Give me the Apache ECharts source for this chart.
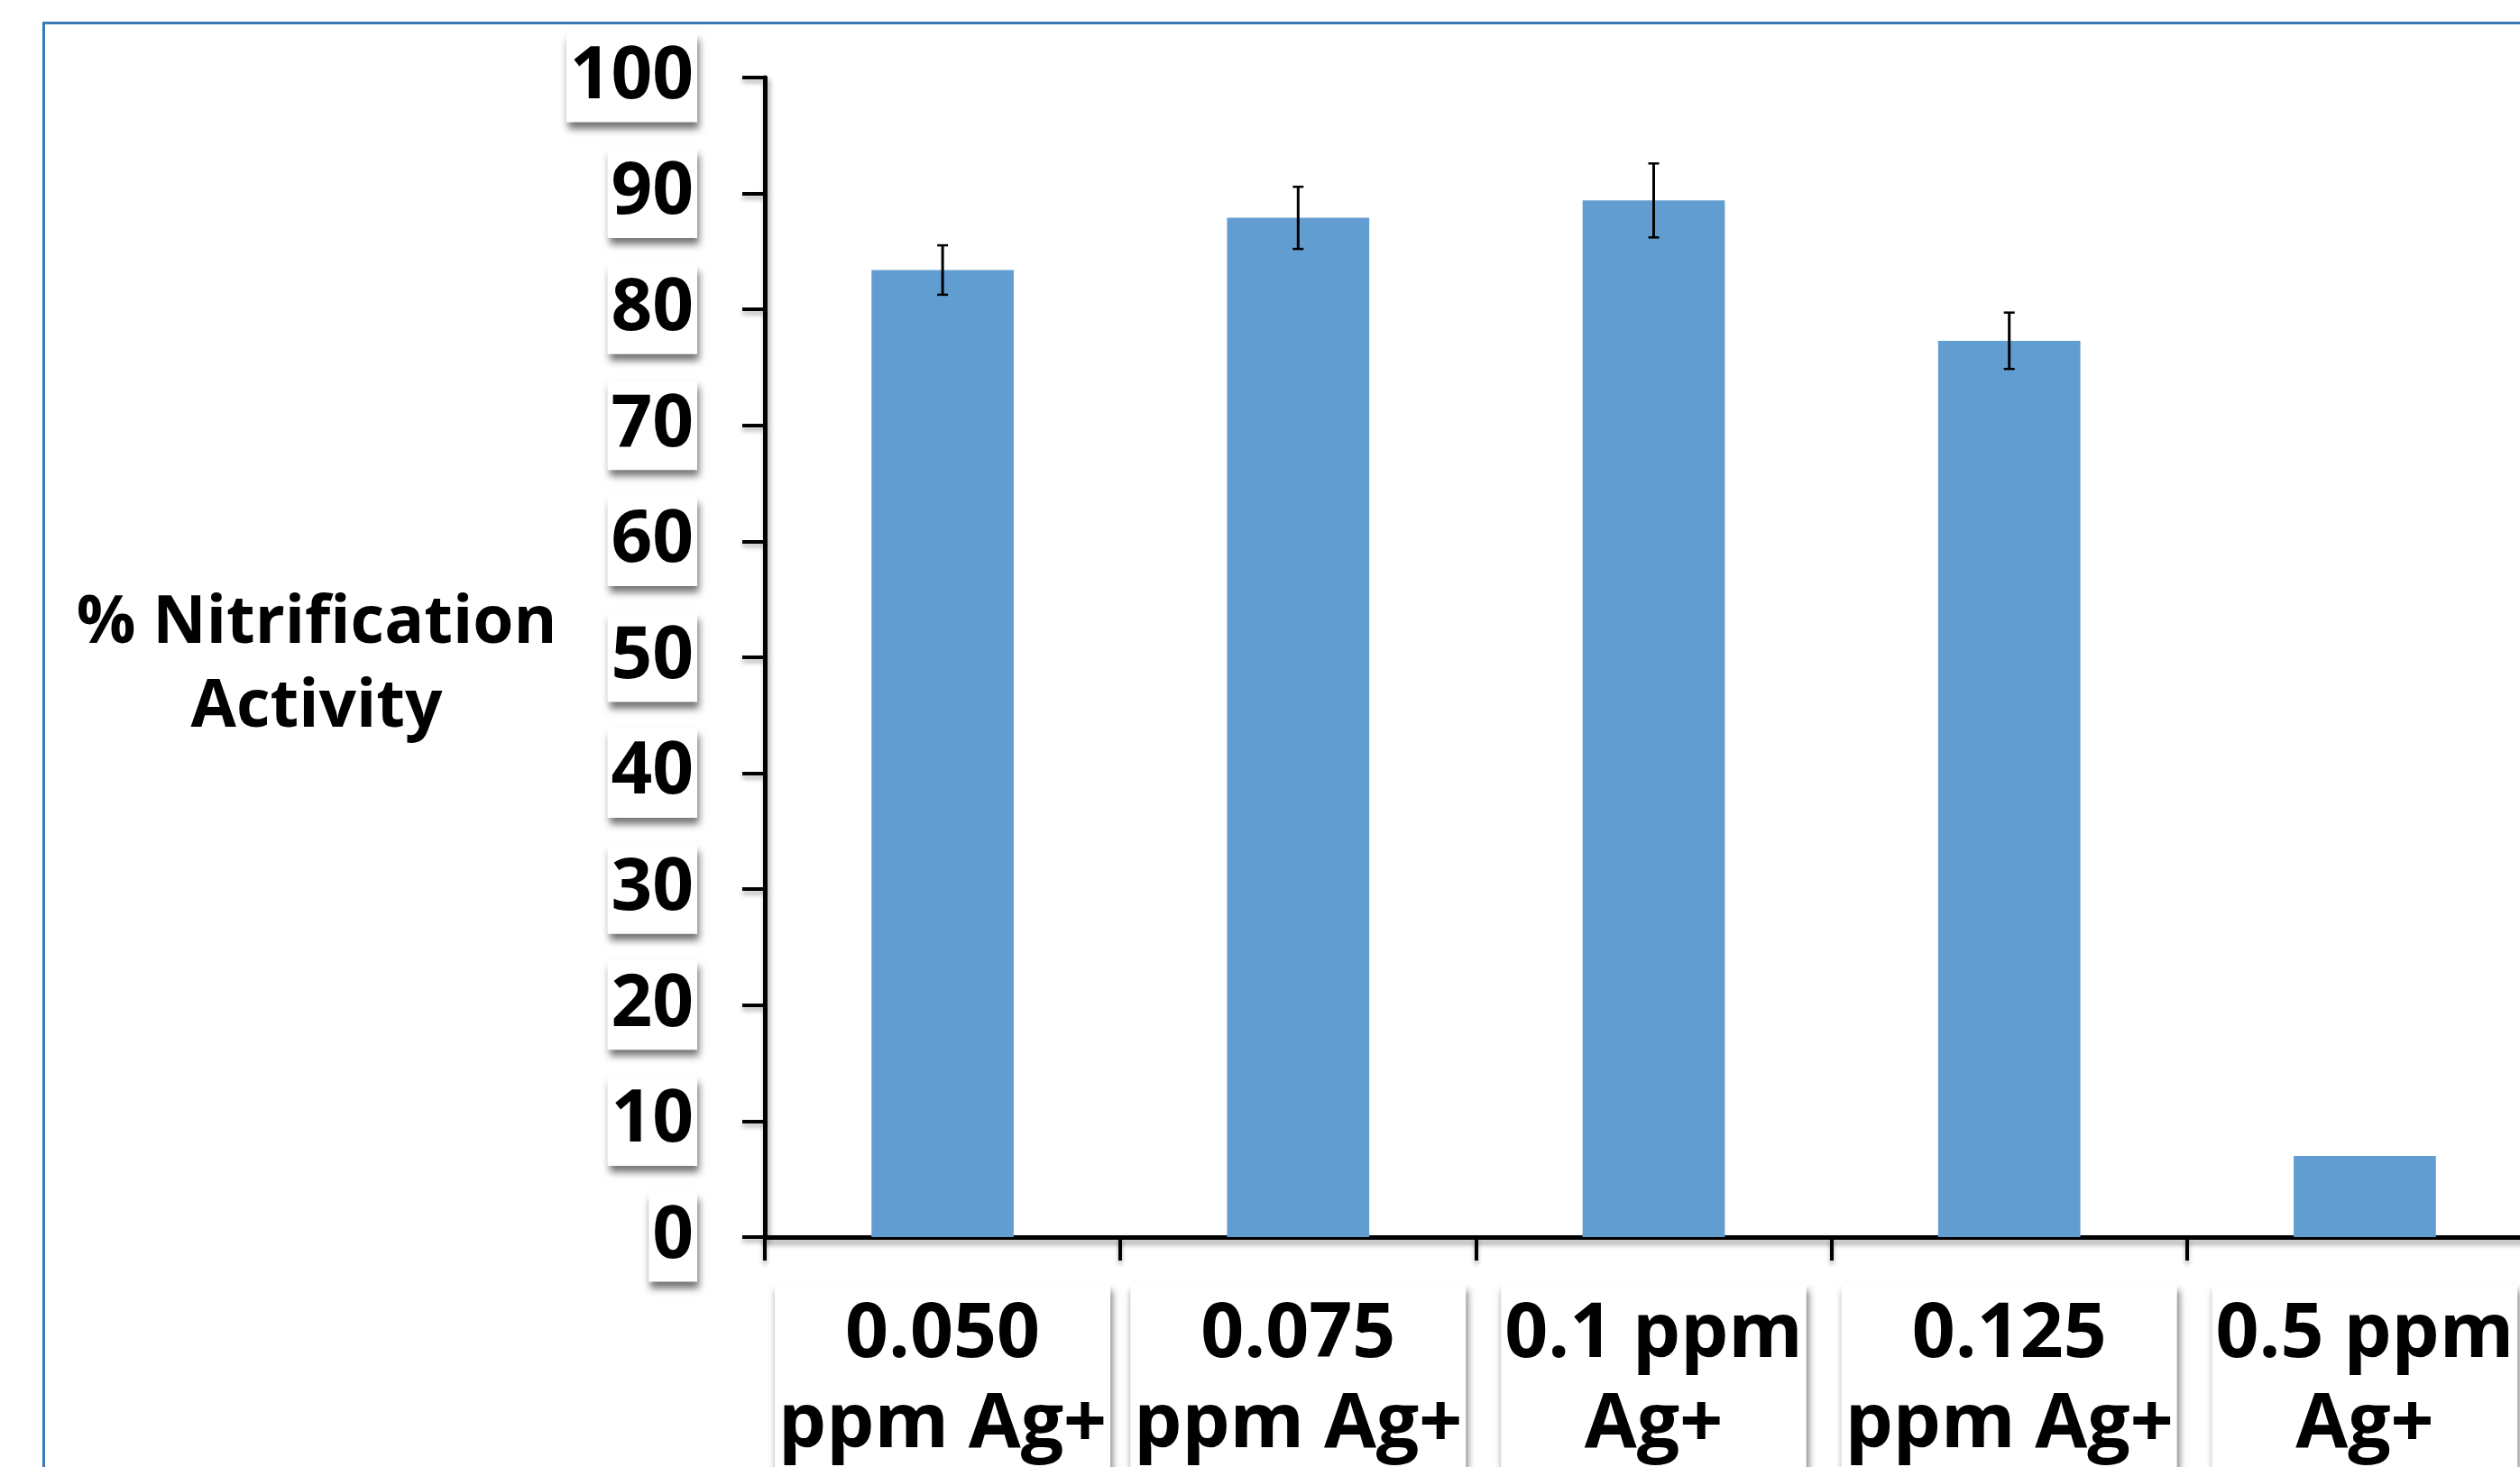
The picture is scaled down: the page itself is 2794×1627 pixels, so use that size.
<!DOCTYPE html>
<html>
<head>
<meta charset="utf-8">
<script src="https://cdn.jsdelivr.net/npm/echarts@6/dist/echarts.min.js"></script>
<style>
html,body{margin:0;padding:0;background:#fff;}
#chart{width:2794px;height:1627px;}
</style>
</head>
<body>
<div id="chart"></div>
<script>
// ---- data ----
var categories = ['0.050\nppm Ag+', '0.075\nppm Ag+', '0.1 ppm\nAg+', '0.125\nppm Ag+', '0.5 ppm\nAg+'];
var values = [83.4, 87.9, 89.4, 77.3, 7.0];
var errors = [2.13, 2.68, 3.19, 2.43, null];
var yTicks = { min: 0, max: 100, interval: 10 };
var yName = '% Nitrification\nActivity';

var FONT = '"Open Sans", "DejaVu Sans", sans-serif';
var errData = [];
for (var i = 0; i < values.length; i++) {
  if (errors[i] != null) errData.push([i, values[i] - errors[i], values[i] + errors[i]]);
}

var labelShadow = {
  backgroundColor: '#ffffff',
  shadowColor: 'rgba(0,0,0,0.55)',
  shadowBlur: 8,
  shadowOffsetX: 2,
  shadowOffsetY: 7
};

var chart = echarts.init(document.getElementById('chart'));
chart.setOption({
  animation: false,
  backgroundColor: '#ffffff',
  graphic: [{
    type: 'rect',
    left: 46, top: 23,
    shape: { width: 3200, height: 2000 },
    style: { fill: 'none', stroke: '#3B78B8', lineWidth: 3 },
    silent: true,
    z: -10
  }, {
    type: 'text',
    x: 351, y: 739,
    silent: true,
    style: {
      text: yName,
      fill: '#000',
      font: 'bold 73px ' + FONT,
      lineHeight: 93,
      align: 'center', verticalAlign: 'middle',
      textAlign: 'center', textVerticalAlign: 'middle'
    }
  }],
  grid: { left: 848, top: 86, bottom: 255, right: -25, containLabel: false, outerBoundsMode: 'none' },
  xAxis: {
    type: 'category',
    data: categories,
    boundaryGap: true,
    axisLine: { lineStyle: { color: '#000', width: 5, shadowColor: 'rgba(0,0,0,0.4)', shadowBlur: 6, shadowOffsetY: 5, shadowOffsetX: 1 } },
    axisTick: { show: true, length: 26, lineStyle: { color: '#000', width: 4, shadowColor: 'rgba(0,0,0,0.3)', shadowBlur: 5, shadowOffsetY: 4 } },
    axisLabel: Object.assign({
      interval: 0,
      margin: 52,
      color: '#000',
      fontFamily: FONT,
      fontWeight: 'bold',
      fontSize: 84,
      lineHeight: 100,
      padding: [7, 4, 10, 4],
      verticalAlign: 'top'
    }, labelShadow),
    splitLine: { show: false }
  },
  yAxis: {
    type: 'value',
    min: yTicks.min, max: yTicks.max, interval: yTicks.interval,
    axisLine: { show: true, lineStyle: { color: '#000', width: 5, shadowColor: 'rgba(0,0,0,0.4)', shadowBlur: 6, shadowOffsetY: 4, shadowOffsetX: 2 } },
    axisTick: { show: true, length: 25, lineStyle: { color: '#000', width: 4, shadowColor: 'rgba(0,0,0,0.3)', shadowBlur: 5, shadowOffsetY: 4 } },
    axisLabel: Object.assign({
      margin: 75,
      color: '#000',
      fontFamily: FONT,
      fontWeight: 'bold',
      fontSize: 80,
      lineHeight: 90,
      padding: [5, 4, 4, 4]
    }, labelShadow),
    splitLine: { show: false }
  },
  series: [{
    type: 'bar',
    data: values,
    barWidth: '40%',
    itemStyle: { color: '#629DD1' },
    z: 2
  }, {
    type: 'custom',
    data: errData,
    z: 5,
    renderItem: function (params, api) {
      var x = api.value(0);
      var lo = api.coord([x, api.value(1)]);
      var hi = api.coord([x, api.value(2)]);
      var cap = 6;
      var st = { stroke: '#000', lineWidth: 3 };
      var st2 = { stroke: '#000', lineWidth: 2.5 };
      return {
        type: 'group',
        children: [
          { type: 'line', shape: { x1: lo[0], y1: lo[1], x2: hi[0], y2: hi[1] }, style: st },
          { type: 'line', shape: { x1: lo[0] - cap, y1: lo[1], x2: lo[0] + cap, y2: lo[1] }, style: st2 },
          { type: 'line', shape: { x1: hi[0] - cap, y1: hi[1], x2: hi[0] + cap, y2: hi[1] }, style: st2 }
        ]
      };
    }
  }]
});
</script>
</body>
</html>
